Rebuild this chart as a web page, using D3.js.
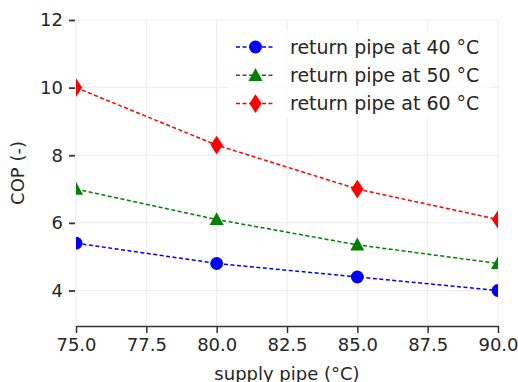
<!DOCTYPE html>
<html>
<head>
<meta charset="utf-8">
<script src="https://d3js.org/d3.v7.min.js"></script>
<style>
  body { margin: 0; background: #fff; }
  text { font-family: "DejaVu Sans", sans-serif; fill: #262626; }
</style>
</head>
<body>
<div class="chart"></div>
<script>

////////// DATA //////////

var supplyTemps = [75, 80, 85, 90];
var cop40 = [5.4, 4.8, 4.4, 4.0];
var cop50 = [7.0, 6.1, 5.35, 4.8];
var cop60 = [10.0, 8.3, 7.0, 6.1];
var seriesNames = ["return pipe at 40 °C", "return pipe at 50 °C", "return pipe at 60 °C"];
var xTicks = [75, 77.5, 80, 82.5, 85, 87.5, 90];
var yTicks = [4, 6, 8, 10, 12];


////////// SETUP //////////

var width = 518, height = 382;
var plot = { left: 76, right: 498, top: 20, bottom: 326 };

var x = d3.scaleLinear()
    .domain([75, 90])
    .range([plot.left, plot.right]);

var y = d3.scaleLinear()
    .domain([2.95, 12])
    .range([plot.bottom, plot.top]);

var series = [
  { name: seriesNames[0], values: cop40, colour: "#0000ff", shape: "circle" },
  { name: seriesNames[1], values: cop50, colour: "#008000", shape: "triangle" },
  { name: seriesNames[2], values: cop60, colour: "#ff0000", shape: "diamond" }
];

var svg = d3.select(".chart")
    .append("svg")
    .attr("width", width)
    .attr("height", height);

svg.append("defs")
  .append("clipPath")
    .attr("id", "plot-clip")
  .append("rect")
    .attr("x", plot.left)
    .attr("y", 0)
    .attr("width", plot.right - plot.left)
    .attr("height", plot.bottom);

// marker shapes, drawn centred on 0,0
function markerPath(shape) {
  if (shape == "circle") {
    return d3.symbol().type(d3.symbolCircle).size(130)();
  } else if (shape == "triangle") {
    return "M0,-7.3L7,5.6L-7,5.6Z";
  } else {
    return "M0,-9.3L6.2,0L0,9.3L-6.2,0Z";
  }
}


////////// GRID //////////

var grid = svg.append("g").attr("class", "grid");

grid.selectAll(".vgrid")
    .data(xTicks)
    .enter()
    .append("line")
    .attr("x1", function(d) { return x(d); })
    .attr("x2", function(d) { return x(d); })
    .attr("y1", plot.top)
    .attr("y2", plot.bottom)
    .style("stroke", "#ececec")
    .style("stroke-width", 1);

grid.selectAll(".hgrid")
    .data(yTicks)
    .enter()
    .append("line")
    .attr("x1", plot.left)
    .attr("x2", plot.right)
    .attr("y1", function(d) { return y(d); })
    .attr("y2", function(d) { return y(d); })
    .style("stroke", "#ececec")
    .style("stroke-width", 1);


////////// AXES //////////

var xAxis = svg.append("g")
    .attr("transform", "translate(0," + plot.bottom + ")")
    .call(d3.axisBottom(x)
      .tickValues(xTicks)
      .tickSize(7)
      .tickSizeOuter(0)
      .tickPadding(5)
      .tickFormat(d3.format(".1f")));

xAxis.select(".domain").style("stroke", "#333").style("stroke-width", 1.5);
xAxis.selectAll(".tick line").style("stroke", "#333").style("stroke-width", 1.5);
xAxis.selectAll("text").style("font-size", "18px").style("fill", "#262626");

var yAxis = svg.append("g")
    .attr("transform", "translate(" + (plot.left - 1) + ",0)")
    .call(d3.axisLeft(y)
      .tickValues(yTicks)
      .tickSize(6)
      .tickPadding(6));

yAxis.select(".domain").remove();
yAxis.selectAll(".tick line").style("stroke", "#333").style("stroke-width", 1.8);
yAxis.selectAll("text").style("font-size", "18px").style("fill", "#262626");

svg.append("text")
    .attr("x", (plot.left + plot.right) / 2)
    .attr("y", 380)
    .attr("text-anchor", "middle")
    .style("font-size", "18px")
    .text("supply pipe (°C)");

svg.append("text")
    .attr("transform", "translate(24," + 173 + ") rotate(-90)")
    .attr("text-anchor", "middle")
    .style("font-size", "18px")
    .text("COP (-)");


////////// LINES //////////

var line = d3.line()
    .x(function(d, i) { return x(supplyTemps[i]); })
    .y(function(d) { return y(d); });

var lines = svg.append("g")
    .attr("clip-path", "url(#plot-clip)");

series.forEach(function(s) {
  lines.append("path")
      .datum(s.values)
      .attr("d", line)
      .style("fill", "none")
      .style("stroke", s.colour)
      .style("stroke-width", 1.5)
      .style("stroke-dasharray", "4,2.5");

  lines.selectAll(".marker-" + s.shape)
      .data(s.values)
      .enter()
      .append("path")
      .attr("class", "marker-" + s.shape)
      .attr("transform", function(d, i) {
        return "translate(" + x(supplyTemps[i]) + "," + y(d) + ")";
      })
      .attr("d", markerPath(s.shape))
      .style("fill", s.colour);
});


////////// LEGEND //////////

var legend = svg.append("g")
    .attr("class", "legend");

legend.append("rect")
    .attr("x", 228)
    .attr("y", 30)
    .attr("width", 262)
    .attr("height", 88)
    .style("fill", "#fff")
    .style("opacity", 0.8);

var item = legend.selectAll(".item")
    .data(series)
    .enter()
    .append("g")
    .attr("class", "item")
    .attr("transform", function(d, i) { return "translate(0," + (47 + i * 28.3) + ")"; });

item.append("line")
    .attr("x1", 236)
    .attr("x2", 275)
    .style("stroke", function(d) { return d.colour; })
    .style("stroke-width", 1.5)
    .style("stroke-dasharray", "4,2.5");

item.append("path")
    .attr("transform", "translate(255.5,0)")
    .attr("d", function(d) { return markerPath(d.shape); })
    .style("fill", function(d) { return d.colour; });

item.append("text")
    .attr("x", 290)
    .attr("dy", "0.35em")
    .style("font-size", "19px")
    .text(function(d) { return d.name; });

</script>
</body>
</html>
